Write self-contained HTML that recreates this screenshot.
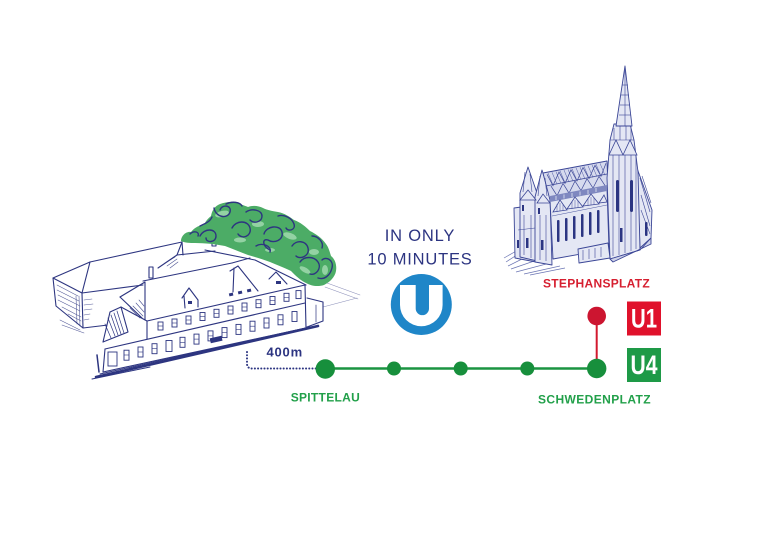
<!DOCTYPE html>
<html><head><meta charset="utf-8">
<style>
html,body{margin:0;padding:0;background:#fff;}
svg{display:block;}
</style></head>
<body>
<svg width="768" height="552" viewBox="0 0 768 552" xmlns="http://www.w3.org/2000/svg">
<rect width="768" height="552" fill="#fff"/>

<!-- ============ BUILDING (Spittelau) ============ -->
<g fill="none" stroke="#2d3580" stroke-width="1.1" stroke-linecap="round" stroke-linejoin="round">
  <polygon points="53,278 82,293 83,328 56,306" fill="#fff"/>
  <g stroke-width="0.6" opacity="0.8">
    <line x1="57" y1="285" x2="78" y2="296"/><line x1="57" y1="290" x2="79" y2="301"/>
    <line x1="58" y1="295" x2="80" y2="306"/><line x1="58" y1="300" x2="80" y2="311"/>
    <line x1="62" y1="307" x2="81" y2="317"/><line x1="68" y1="314" x2="81" y2="321"/>
    <line x1="76" y1="296" x2="77" y2="324"/><line x1="79" y1="296" x2="80" y2="326"/>
  </g>
  <polyline points="53,278 90,262 82,293"/>
  <line x1="90" y1="262" x2="182" y2="242"/>
  <line x1="82" y1="293" x2="143" y2="285"/>
  <line x1="83" y1="328" x2="108" y2="325"/>
  <g stroke-width="0.6" opacity="0.8">
    <line x1="84" y1="300" x2="92" y2="299"/><line x1="84" y1="305" x2="93" y2="304"/>
    <line x1="84" y1="310" x2="92" y2="309"/><line x1="84" y1="315" x2="90" y2="314"/>
    <line x1="84" y1="320" x2="89" y2="319"/><line x1="60" y1="320" x2="80" y2="330"/>
    <line x1="62" y1="325" x2="84" y2="333"/>
  </g>

  <polyline points="182,242 177,255 158,268"/>
  <line x1="177" y1="255" x2="215" y2="251"/>
  <line x1="182" y1="242" x2="183" y2="255"/>
  <rect x="149" y="267" width="4" height="11" fill="#fff"/>
  <rect x="212" y="238" width="4" height="8" fill="#fff"/>
  <g stroke-width="0.6" opacity="0.85">
    <line x1="165" y1="263" x2="175" y2="257"/><line x1="167" y1="266" x2="177" y2="259"/>
    <line x1="170" y1="268" x2="178" y2="262"/>
  </g>

  <polyline points="120,297 145,282 145,320"/>
  <line x1="120" y1="297" x2="142" y2="318"/>
  <g stroke-width="0.6" opacity="0.85">
    <line x1="136" y1="303" x2="144" y2="312"/><line x1="133" y1="306" x2="143" y2="316"/>
    <line x1="139" y1="300" x2="144" y2="306"/><line x1="130" y1="308" x2="140" y2="318"/>
  </g>
  <line x1="143" y1="281" x2="232" y2="263"/>
  <polyline points="205,250 255,260 306,285"/>
  <line x1="232" y1="263" x2="250" y2="258"/>

  <polygon points="110,312 121,307 128,332 103,342" fill="#fff"/>
  <g stroke-width="0.7">
    <line x1="108" y1="318" x2="115" y2="336"/><line x1="111" y1="315" x2="118" y2="335"/>
    <line x1="114" y1="313" x2="121" y2="334"/><line x1="117" y1="311" x2="124" y2="333"/>
    <line x1="105" y1="324" x2="111" y2="338"/>
  </g>
  <line x1="121" y1="307" x2="147" y2="321"/>

  <line x1="147" y1="321" x2="305" y2="285"/>
  <line x1="147" y1="321" x2="147" y2="339"/>
  <line x1="105" y1="349" x2="305" y2="303"/>
  <line x1="305" y1="285" x2="306" y2="328"/>
  <line x1="105" y1="349" x2="103" y2="372"/>
  <line x1="103" y1="372" x2="306" y2="328"/>

  <polyline points="307,298 323,302 323,321 307,327"/>
  <line x1="316" y1="305" x2="316" y2="322" stroke-width="0.7"/>
  <g stroke-width="0.6" opacity="0.55">
    <line x1="327" y1="283" x2="360" y2="295"/>
    <line x1="325" y1="287" x2="358" y2="299"/>
    <line x1="323" y1="307" x2="357" y2="298"/>
  </g>

  <polyline points="182,298 189,288 198,300 198,307"/>
  <line x1="184" y1="296" x2="185" y2="308"/>
  <polyline points="230,271 238,266 258,291"/>
  <line x1="234" y1="268" x2="233" y2="292"/>
  <polyline points="269,279 276,272 287,284"/>
</g>
<g fill="#2d3580">
  <rect x="188" y="301" width="4" height="3"/>
  <rect x="229" y="293" width="4" height="3" transform="rotate(-12 231 294)"/>
  <rect x="238" y="291" width="4" height="3" transform="rotate(-12 240 292)"/>
  <rect x="247" y="289" width="4" height="3" transform="rotate(-12 249 290)"/>
  <rect x="276" y="281" width="5" height="3"/>
</g>
<g fill="#fff" stroke="#2d3580" stroke-width="0.9">
  <rect x="158" y="322" width="5" height="8"/>
  <rect x="172" y="319" width="5" height="8"/>
  <rect x="186" y="316" width="5" height="8"/>
  <rect x="200" y="312.5" width="5" height="8"/>
  <rect x="214" y="309.3" width="5" height="8"/>
  <rect x="228" y="306" width="5" height="8"/>
  <rect x="242" y="303" width="5" height="8"/>
  <rect x="256" y="299.7" width="5" height="8"/>
  <rect x="270" y="296.5" width="5" height="8"/>
  <rect x="284" y="293.3" width="5" height="8"/>
  <rect x="296" y="290.6" width="5" height="8"/>

  <rect x="108" y="352" width="9" height="14"/>
  <rect x="124" y="350.2" width="5" height="10"/>
  <rect x="138" y="347" width="5" height="10"/>
  <rect x="152" y="343.7" width="5" height="10"/>
  <rect x="166" y="340.5" width="6" height="11"/>
  <rect x="180" y="337.3" width="5" height="10"/>
  <rect x="194" y="334.1" width="5" height="10"/>
  <rect x="208" y="330.9" width="5" height="10"/>
  <rect x="222" y="327.6" width="5" height="10"/>
  <rect x="236" y="324.4" width="5" height="10"/>
  <rect x="250" y="321.2" width="5" height="10"/>
  <rect x="264" y="318" width="5" height="10"/>
  <rect x="278" y="314.8" width="5" height="10"/>
  <rect x="292" y="311.5" width="5" height="10"/>
</g>
<g stroke="#2d3580" stroke-width="0.6">
  <line x1="158" y1="326" x2="163" y2="326"/><line x1="172" y1="323" x2="177" y2="323"/>
  <line x1="186" y1="320" x2="191" y2="320"/><line x1="200" y1="316.5" x2="205" y2="316.5"/>
  <line x1="214" y1="313.3" x2="219" y2="313.3"/><line x1="228" y1="310" x2="233" y2="310"/>
  <line x1="242" y1="307" x2="247" y2="307"/><line x1="256" y1="303.7" x2="261" y2="303.7"/>
  <line x1="270" y1="300.5" x2="275" y2="300.5"/><line x1="284" y1="297.3" x2="289" y2="297.3"/>
  <line x1="124" y1="355" x2="129" y2="355"/><line x1="138" y1="352" x2="143" y2="352"/>
  <line x1="152" y1="348.7" x2="157" y2="348.7"/><line x1="180" y1="342.3" x2="185" y2="342.3"/>
  <line x1="194" y1="339.1" x2="199" y2="339.1"/><line x1="208" y1="335.9" x2="213" y2="335.9"/>
  <line x1="222" y1="332.6" x2="227" y2="332.6"/><line x1="236" y1="329.4" x2="241" y2="329.4"/>
  <line x1="250" y1="326.2" x2="255" y2="326.2"/><line x1="264" y1="323" x2="269" y2="323"/>
  <line x1="278" y1="319.8" x2="283" y2="319.8"/>
</g>
<rect x="210" y="337" width="12" height="5" fill="#2d3580" transform="rotate(-13 216 339)"/>
<g stroke="#2d3580" stroke-linecap="round" fill="none">
  <line x1="96" y1="377" x2="318" y2="326" stroke-width="2.6"/>
  <line x1="100" y1="374" x2="310" y2="327" stroke-width="1"/>
  <line x1="92" y1="379" x2="150" y2="367" stroke-width="1"/>
  <line x1="97" y1="355" x2="99" y2="372" stroke-width="1.5"/>
</g>

<!-- ============ TREE ============ -->
<path d="M181,241 C181,236 186,231 191,232 C195,227 200,225 204,225 C206,220 209,218 211,216 C212,210 215,206 220,204 C226,202 233,201 238,203 C242,205 246,206 248,207 C253,205 259,206 263,208 C267,210 272,211 278,212 C284,213 290,217 294,220 C300,222 306,227 310,231 C316,234 322,238 326,244 C329,248 330,253 331,256 C335,259 337,265 336,271 C335,277 330,282 324,285 C318,287 311,286 306,283 C300,280 296,276 291,271 C285,268 277,265 270,262 C262,259 255,257 248,255 C240,252 233,249 225,246 C215,244 205,243 195,243 C190,243 185,243 181,241 Z" fill="#4cac66"/>
<g fill="#9bd7aa" opacity="0.9">
  <ellipse cx="222" cy="214" rx="7" ry="3" transform="rotate(-15 222 214)"/>
  <ellipse cx="258" cy="224" rx="6" ry="3"/>
  <ellipse cx="290" cy="236" rx="7" ry="3" transform="rotate(20 290 236)"/>
  <ellipse cx="314" cy="252" rx="5" ry="3"/>
  <ellipse cx="305" cy="270" rx="6" ry="2.5" transform="rotate(30 305 270)"/>
  <ellipse cx="240" cy="240" rx="6" ry="2.5"/>
  <ellipse cx="325" cy="270" rx="3" ry="5"/>
  <ellipse cx="270" cy="250" rx="5" ry="2"/>
</g>
<g fill="none" stroke="#2d3580" stroke-width="1.4" stroke-linecap="round">
  <path d="M214,208 C216,218 228,219 230,212 C232,205 222,204 220,210"/>
  <path d="M200,236 C204,228 216,228 216,236 C216,243 206,243 206,238"/>
  <path d="M232,228 C236,220 248,220 250,228 C252,236 242,240 238,234"/>
  <path d="M246,212 C252,208 262,210 262,216 C262,222 254,224 250,220"/>
  <path d="M264,234 C266,226 280,224 282,232 C284,240 274,244 268,240 C262,238 262,246 270,250"/>
  <path d="M278,216 C284,214 292,218 294,224 C296,230 288,232 286,228"/>
  <path d="M292,246 C296,240 306,240 308,248 C310,256 300,260 296,256"/>
  <path d="M312,236 C318,236 324,242 322,248"/>
  <path d="M300,262 C304,256 314,256 318,262 C322,268 316,276 310,274"/>
  <path d="M318,278 C324,280 330,276 332,268 C334,260 326,256 322,260"/>
  <path d="M190,234 C194,230 200,232 198,236"/>
  <path d="M256,246 C262,242 272,246 270,252"/>
  <path d="M226,204 C232,201 240,202 242,206"/>
  <path d="M212,217 C210,222 204,224 200,226"/>
</g>

<!-- ============ CATHEDRAL ============ -->
<g stroke="#6a74b3" stroke-width="0.7" fill="none">
  <line x1="506" y1="262" x2="523" y2="251"/><line x1="508" y1="266" x2="530" y2="255"/>
  <line x1="511" y1="269" x2="540" y2="259"/><line x1="516" y1="272" x2="550" y2="263"/>
  <line x1="524" y1="274" x2="560" y2="266"/><line x1="504" y1="258" x2="518" y2="250"/>
  <line x1="530" y1="275" x2="565" y2="268"/>
</g>
<g stroke="#3b4696" stroke-width="0.9" stroke-linejoin="round" fill="#e4e7f4">
  <polygon points="514,208 536,205 536,262 515,258"/>
  <polygon points="520,193 528,167 537,193 537,261 520,257"/>
  <polygon points="535,197 542,170 550,197 552,265 535,262"/>
  <polygon points="550,200 607,189 609,249 553,259"/>
  <polygon points="543,173 607,161 608,189 550,200" fill="#d6daee"/>
  <polygon points="637,168 652,210 651,238 640,248"/>
  <polygon points="614,124 630,124 634,140 638,172 640,250 610,259 607,178 610,140"/>
  <polygon points="625,66 616,126 632,126"/>
  <polygon points="578,249 608,243 610,258 579,263"/>
  <polygon points="610,259 640,250 651,238 651,244 613,262" fill="#cfd3ea"/>
</g>
<!-- roof hatch -->
<g fill="none" stroke="#3b4696" stroke-width="0.7">
  <polyline points="547,174.3 553,185.7 559,172 565,183.4 571,169.8 577,181 583,167.5 589,178.6 595,165.3 601,176.3 606,163.2"/>
  <polyline points="551,186.1 557,195.6 563,183.5 569,193.1 575,181.1 581,190.6 587,178.7 593,188.1 599,176.3 605,185.6"/>
  <line x1="546" y1="186" x2="607" y2="174"/>
</g>
<g fill="none" stroke="#4a55a0" stroke-width="0.5">
  <line x1="548" y1="173" x2="553" y2="185"/><line x1="552" y1="172.3" x2="557" y2="184.3"/>
  <line x1="556" y1="171.6" x2="561" y2="183.6"/><line x1="560" y1="170.8" x2="565" y2="182.8"/>
  <line x1="564" y1="170.1" x2="569" y2="182.1"/><line x1="568" y1="169.3" x2="573" y2="181.3"/>
  <line x1="572" y1="168.6" x2="577" y2="180.6"/><line x1="576" y1="167.8" x2="581" y2="179.8"/>
  <line x1="580" y1="167.1" x2="585" y2="179.1"/><line x1="584" y1="166.3" x2="589" y2="178.3"/>
  <line x1="588" y1="165.6" x2="593" y2="177.6"/><line x1="592" y1="164.8" x2="597" y2="176.8"/>
  <line x1="596" y1="164.1" x2="601" y2="176.1"/><line x1="600" y1="163.3" x2="605" y2="175.3"/>
</g>
<polygon points="550,196 607,185 607,191 550,202" fill="#7f88c0"/>
<g stroke="#e4e7f4" stroke-width="0.8">
  <line x1="556" y1="196" x2="556" y2="200"/><line x1="564" y1="194.5" x2="564" y2="198.5"/>
  <line x1="572" y1="193" x2="572" y2="197"/><line x1="580" y1="191.5" x2="580" y2="195.5"/>
  <line x1="588" y1="190" x2="588" y2="194"/><line x1="596" y1="188" x2="596" y2="192"/>
</g>
<!-- gables -->
<g fill="#e4e7f4" stroke="#3b4696" stroke-width="0.8">
  <polygon points="553,212 560,200 567,210"/>
  <polygon points="567,209 575,197 583,207"/>
  <polygon points="583,206 591,194 599,204"/>
  <polygon points="599,203 604,195 607,202"/>
  <polygon points="609,155 616,140 623,155"/>
  <polygon points="623,155 630,140 637,155"/>
  <polygon points="520,200 528,190 536,200"/>
  <polygon points="537,203 543,194 550,203"/>
</g>
<g stroke="#4a55a0" stroke-width="0.5" fill="none">
  <line x1="557" y1="204" x2="557" y2="212"/><line x1="560" y1="203" x2="560" y2="211"/><line x1="563" y1="204" x2="563" y2="211"/>
  <line x1="572" y1="201" x2="572" y2="209"/><line x1="575" y1="200" x2="575" y2="208"/><line x1="578" y1="201" x2="578" y2="208"/>
  <line x1="588" y1="198" x2="588" y2="206"/><line x1="591" y1="197" x2="591" y2="205"/><line x1="594" y1="198" x2="594" y2="205"/>
  <line x1="552" y1="216" x2="607" y2="205"/>
</g>
<!-- tower/spire lines -->
<g stroke="#3b4696" stroke-width="0.6" fill="none">
  <line x1="625" y1="70" x2="625" y2="126"/>
  <line x1="621" y1="95" x2="629" y2="95"/><line x1="620" y1="105" x2="630" y2="105"/>
  <line x1="619" y1="115" x2="631" y2="115"/><line x1="622" y1="85" x2="628" y2="85"/>
  <line x1="613" y1="155" x2="613" y2="256"/><line x1="619" y1="155" x2="619" y2="255"/>
  <line x1="625" y1="155" x2="625" y2="253"/><line x1="631" y1="155" x2="631" y2="251"/>
  <line x1="636" y1="155" x2="636" y2="249"/>
  <line x1="610" y1="140" x2="634" y2="140"/>
  <line x1="614" y1="128" x2="614" y2="140"/><line x1="620" y1="126" x2="620" y2="140"/>
  <line x1="626" y1="126" x2="626" y2="140"/><line x1="631" y1="126" x2="631" y2="140"/>
  <line x1="640" y1="178" x2="650" y2="212"/><line x1="642" y1="176" x2="651" y2="203"/>
  <line x1="641" y1="195" x2="650" y2="226"/><line x1="641" y1="210" x2="650" y2="234"/>
  <line x1="524" y1="215" x2="524" y2="255"/><line x1="531" y1="215" x2="531" y2="258"/>
  <line x1="540" y1="215" x2="540" y2="260"/><line x1="546" y1="215" x2="546" y2="261"/>
  <line x1="518" y1="230" x2="535" y2="228"/>
  <line x1="525" y1="172" x2="523" y2="192"/><line x1="530" y1="174" x2="532" y2="192"/>
  <line x1="540" y1="176" x2="538" y2="196"/><line x1="545" y1="178" x2="547" y2="196"/>
  <line x1="583" y1="250" x2="583" y2="260"/><line x1="589" y1="249" x2="589" y2="259"/>
  <line x1="595" y1="248" x2="595" y2="258"/><line x1="601" y1="247" x2="601" y2="257"/>
</g>
<g fill="#2b3582">
  <rect x="557" y="220" width="2.5" height="22" rx="1"/>
  <rect x="565" y="218" width="2.5" height="23" rx="1"/>
  <rect x="573" y="216" width="2.5" height="23" rx="1"/>
  <rect x="581" y="214" width="2.5" height="23" rx="1"/>
  <rect x="589" y="212" width="2.5" height="23" rx="1"/>
  <rect x="597" y="210" width="2.5" height="23" rx="1"/>
  <rect x="616" y="180" width="3" height="32" rx="1.5"/>
  <rect x="630" y="180" width="3" height="32" rx="1.5"/>
  <rect x="645" y="222" width="2.5" height="14" rx="1"/>
  <rect x="526" y="238" width="2.5" height="10"/>
  <rect x="541" y="240" width="2.5" height="10"/>
  <rect x="517" y="240" width="2" height="8"/>
  <rect x="522" y="205" width="2" height="6"/>
  <rect x="538" y="208" width="2" height="6"/>
  <rect x="620" y="228" width="2.5" height="14"/>
</g>

<!-- ============ CENTER TEXT + LOGO ============ -->
<g font-family="Liberation Sans, Arial, sans-serif" fill="#2c3481" font-size="16.5" text-anchor="middle" letter-spacing="0.8">
  <text x="420" y="241">IN ONLY</text>
  <text x="420" y="264.5">10 MINUTES</text>
</g>
<circle cx="421.3" cy="304.5" r="30.5" fill="#1f86c8"/>
<path d="M400,285 V305 A21.3,21.3 0 0 0 442.6,305 V285 Z" fill="#fff"/>
<path d="M415.7,280 H429 V308.5 A6.65,6.65 0 0 1 415.7,308.5 Z" fill="#1f86c8"/>

<!-- ============ TRANSIT MAP ============ -->
<path d="M247,352 V363.5 Q247,368.5 252,368.5 H316" fill="none" stroke="#2c3481" stroke-width="2" stroke-linecap="round" stroke-dasharray="0.1 3.1"/>
<line x1="325" y1="368.5" x2="597" y2="368.5" stroke="#1a9441" stroke-width="2.4"/>
<line x1="596.7" y1="316" x2="596.7" y2="368" stroke="#d2192f" stroke-width="2"/>
<circle cx="325.3" cy="369" r="9.7" fill="#178f3c"/>
<circle cx="394" cy="368.5" r="7" fill="#178f3c"/>
<circle cx="460.7" cy="368.5" r="7" fill="#178f3c"/>
<circle cx="527.3" cy="368.5" r="7" fill="#178f3c"/>
<circle cx="596.7" cy="368.5" r="9.7" fill="#178f3c"/>
<circle cx="596.7" cy="316" r="9.3" fill="#cc1530"/>

<rect x="627" y="301.5" width="34" height="34" fill="#e0112b"/>
<rect x="627" y="348" width="34" height="34" fill="#1e9a47"/>
<g font-family="Liberation Sans, Arial, sans-serif" font-weight="bold" fill="#fff" font-size="27" text-anchor="middle">
  <text x="644" y="327.5" textLength="26" lengthAdjust="spacingAndGlyphs">U1</text>
  <text x="644" y="374" textLength="27" lengthAdjust="spacingAndGlyphs">U4</text>
</g>

<g font-family="Liberation Sans, Arial, sans-serif" font-weight="bold" font-size="12">
  <text x="266.5" y="356.7" font-size="13" letter-spacing="0.8" fill="#2c3481">400m</text>
  <text x="290.7" y="401.6" letter-spacing="0.3" fill="#22a04a">SPITTELAU</text>
  <text x="538" y="403.5" letter-spacing="0.4" fill="#22a04a">SCHWEDENPLATZ</text>
  <text x="543" y="287.3" letter-spacing="0.3" fill="#d61f30">STEPHANSPLATZ</text>
</g>
</svg>
</body></html>
